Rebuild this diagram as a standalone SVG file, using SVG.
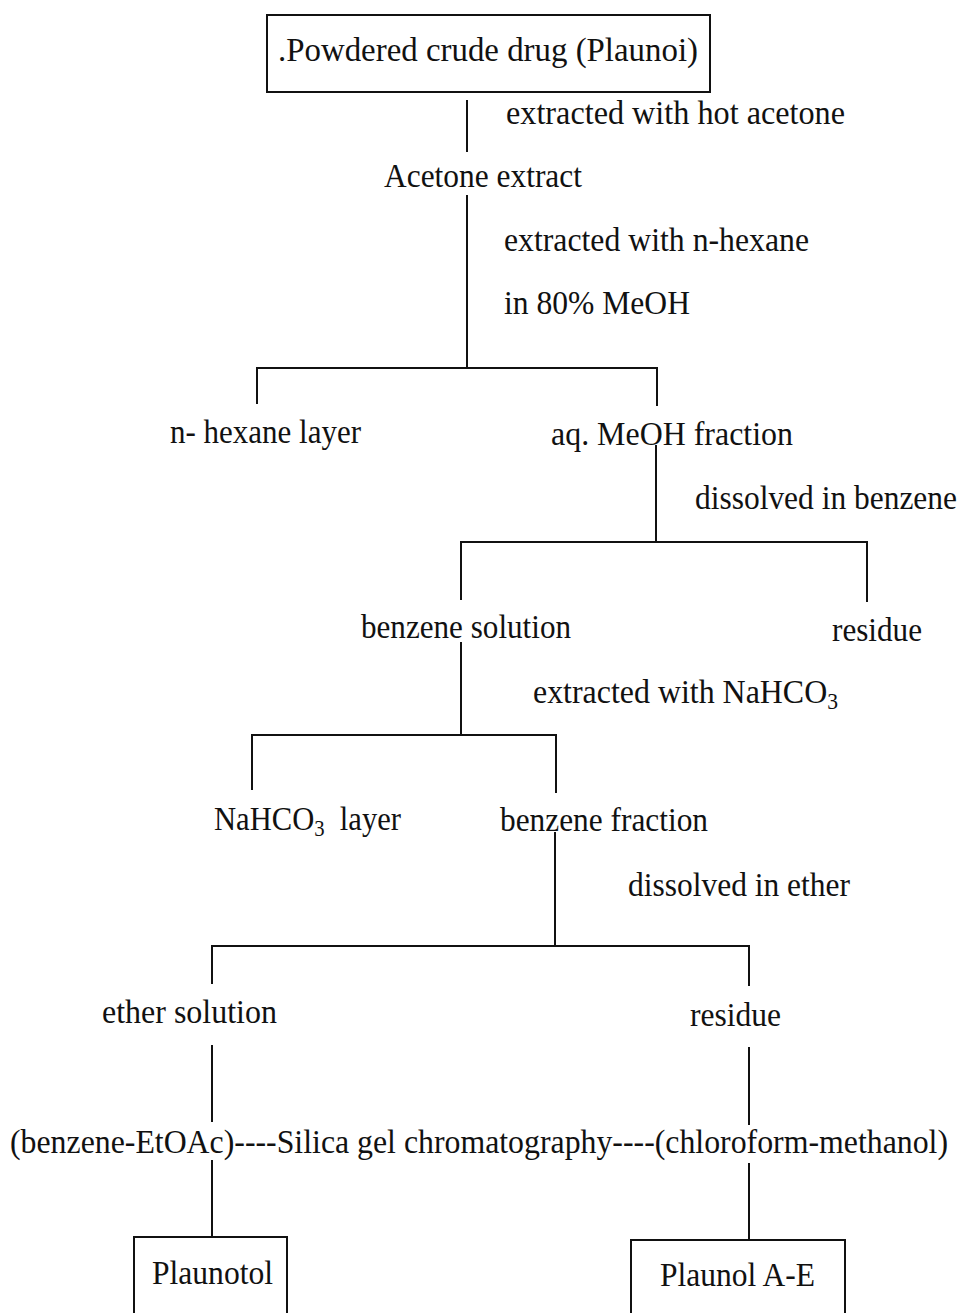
<svg xmlns="http://www.w3.org/2000/svg" width="960" height="1313" viewBox="0 0 960 1313">
<style>
text{font-family:"Liberation Serif","Times New Roman",serif;font-size:34px;fill:#111}
.ln{stroke:#111;stroke-width:2;fill:none}
.box{stroke:#111;stroke-width:2;fill:#fff}
.sub{font-size:23px}
</style>
<rect width="960" height="1313" fill="#fff"/>
<g id="connectors">
<path class="ln" d="M467 100V152"/>
<path class="ln" d="M467 195V368M257 404V368H657V406"/>
<path class="ln" d="M656 445V542M461 600V542H867V602"/>
<path class="ln" d="M461 642V735M252 790V735H556V793"/>
<path class="ln" d="M555 832V946M212 984V946H749V986"/>
<path class="ln" d="M212 1045V1122M749 1047V1125"/>
<path class="ln" d="M212 1160V1237M749 1163V1240"/>
</g>
<g id="n-powder"><rect class="box" x="267" y="15" width="443" height="77"/><text x="488" y="61" text-anchor="middle" textLength="420" lengthAdjust="spacingAndGlyphs">.Powdered crude drug (Plaunoi)</text></g>
<g id="l-hotacetone"><text x="506" y="124" textLength="339" lengthAdjust="spacingAndGlyphs">extracted with hot acetone</text></g>
<g id="n-acetone"><text x="384" y="187" textLength="198" lengthAdjust="spacingAndGlyphs">Acetone extract</text></g>
<g id="l-hexane"><text x="504" y="251" textLength="305" lengthAdjust="spacingAndGlyphs">extracted with n-hexane</text><text x="504" y="314" textLength="186" lengthAdjust="spacingAndGlyphs">in 80% MeOH</text></g>
<g id="n-hexlayer"><text x="170" y="443" textLength="191" lengthAdjust="spacingAndGlyphs">n- hexane layer</text></g>
<g id="n-aqmeoh"><text x="551" y="445" textLength="242" lengthAdjust="spacingAndGlyphs">aq. MeOH fraction</text></g>
<g id="l-benzene"><text x="695" y="509" textLength="262" lengthAdjust="spacingAndGlyphs">dissolved in benzene</text></g>
<g id="n-benzsol"><text x="361" y="638" textLength="210" lengthAdjust="spacingAndGlyphs">benzene solution</text></g>
<g id="n-residue1"><text x="832" y="641" textLength="90" lengthAdjust="spacingAndGlyphs">residue</text></g>
<g id="l-nahco3"><text x="533" y="703" textLength="305" lengthAdjust="spacingAndGlyphs">extracted with NaHCO<tspan class="sub" dy="6">3</tspan></text></g>
<g id="n-nahco3layer"><text x="214" y="830" textLength="187" lengthAdjust="spacingAndGlyphs">NaHCO<tspan class="sub" dy="6">3</tspan><tspan dy="-6" xml:space="preserve">  layer</tspan></text></g>
<g id="n-benzfrac"><text x="500" y="831" textLength="208" lengthAdjust="spacingAndGlyphs">benzene fraction</text></g>
<g id="l-ether"><text x="628" y="896" textLength="222" lengthAdjust="spacingAndGlyphs">dissolved in ether</text></g>
<g id="n-ethersol"><text x="102" y="1023" textLength="175" lengthAdjust="spacingAndGlyphs">ether solution</text></g>
<g id="n-residue2"><text x="690" y="1026" textLength="91" lengthAdjust="spacingAndGlyphs">residue</text></g>
<g id="n-silica"><text x="10" y="1153" textLength="938" lengthAdjust="spacingAndGlyphs">(benzene-EtOAc)----Silica gel chromatography----(chloroform-methanol)</text></g>
<g id="n-plaunotol"><rect class="box" x="134" y="1237" width="153" height="90"/><text x="152" y="1284" textLength="121" lengthAdjust="spacingAndGlyphs">Plaunotol</text></g>
<g id="n-plaunol"><rect class="box" x="631" y="1240" width="214" height="90"/><text x="660" y="1286" textLength="155" lengthAdjust="spacingAndGlyphs">Plaunol A-E</text></g>
</svg>
